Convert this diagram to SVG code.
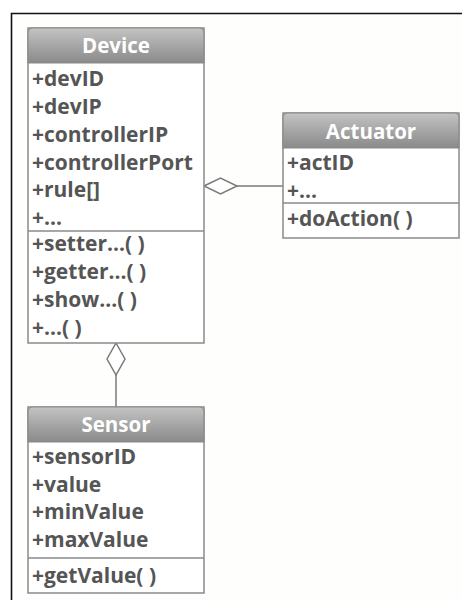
<svg xmlns="http://www.w3.org/2000/svg" width="462" height="600" viewBox="0 0 462 600">
<defs>
<linearGradient id="hdr" x1="0" y1="0" x2="0" y2="1">
<stop offset="0" stop-color="#c4c4c4"/>
<stop offset="0.5" stop-color="#a6a6a6"/>
<stop offset="1" stop-color="#8a8a8a"/>
</linearGradient>
<style>
.box{fill:#ffffff;stroke:#8a8a8a;stroke-width:1.5}
.hdr{fill:url(#hdr);stroke:#8a8a8a;stroke-width:1.2}
.sep{stroke:#8a8a8a;stroke-width:1.5}
.t{font-family:"Open Sans","Liberation Sans",sans-serif;font-weight:700;font-size:21px;fill:#555555}
.h{font-family:"Open Sans","Liberation Sans",sans-serif;font-weight:700;font-size:20.5px;fill:#ffffff;text-anchor:middle}
.ln{stroke:#7a7a7a;stroke-width:1.5;fill:none}
.dm{fill:#ffffff;stroke:#7a7a7a;stroke-width:1.5}
</style>
</defs>
<rect x="0" y="0" width="462" height="600" fill="#ffffff"/>
<rect x="12" y="14" width="450" height="586" fill="#fefefc"/>
<path d="M11.5 600 V13.5 H462" fill="none" stroke="#111" stroke-width="1.6"/>

<g id="connectors">
<line class="ln" x1="237" y1="186" x2="283" y2="186"/>
<polygon class="dm" points="204,186 220.5,178 237,186 220.5,194"/>
<line class="ln" x1="116" y1="375" x2="116" y2="407"/>
<polygon class="dm" points="116,343 125,359 116,375 107,359"/>
</g>

<g id="device">
<rect class="box" x="28" y="28" width="176" height="315"/>
<path class="hdr" d="M28 63 V33 Q28 28 33 28 H199 Q204 28 204 33 V63 Z"/>
<text class="h" x="116" y="53">Device</text>
<text class="t" x="32" y="86">+devID</text>
<text class="t" x="32" y="114">+devIP</text>
<text class="t" x="32" y="142">+controllerIP</text>
<text class="t" x="32" y="170">+controllerPort</text>
<text class="t" x="32" y="197">+rule[]</text>
<text class="t" x="32" y="225">+...</text>
<line class="sep" x1="28" y1="231" x2="204" y2="231"/>
<text class="t" x="32" y="251">+setter...( )</text>
<text class="t" x="32" y="279">+getter...( )</text>
<text class="t" x="32" y="307">+show...( )</text>
<text class="t" x="32" y="335">+...( )</text>
</g>

<g id="actuator">
<rect class="box" x="283" y="113" width="176" height="125"/>
<path class="hdr" d="M283 148 V118 Q283 113 288 113 H454 Q459 113 459 118 V148 Z"/>
<text class="h" x="371" y="139">Actuator</text>
<text class="t" x="287" y="170">+actID</text>
<text class="t" x="287" y="198">+...</text>
<line class="sep" x1="283" y1="203" x2="459" y2="203"/>
<text class="t" x="287" y="226">+doAction( )</text>
</g>

<g id="sensor">
<rect class="box" x="28" y="407" width="176" height="186"/>
<path class="hdr" d="M28 442 V412 Q28 407 33 407 H199 Q204 407 204 412 V442 Z"/>
<text class="h" x="116" y="432">Sensor</text>
<text class="t" x="32" y="464">+sensorID</text>
<text class="t" x="32" y="492">+value</text>
<text class="t" x="32" y="519">+minValue</text>
<text class="t" x="32" y="547">+maxValue</text>
<line class="sep" x1="28" y1="558" x2="204" y2="558"/>
<text class="t" x="32" y="583">+getValue( )</text>
</g>
</svg>
